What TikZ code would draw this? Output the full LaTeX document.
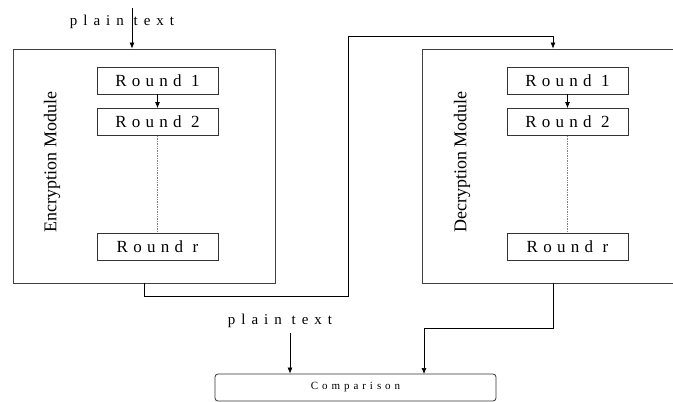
\documentclass[tikz,border=0pt]{standalone}
\usepackage{fontspec}
\setmainfont{Liberation Serif}
\newfontfamily\roundfont[LetterSpace=31]{Liberation Serif}
\newfontfamily\plainfont[LetterSpace=40]{Liberation Serif}
\newfontfamily\cmpfont[LetterSpace=36]{Liberation Serif}
\usetikzlibrary{arrows.meta}

\begin{document}
\begin{tikzpicture}[x=1pt, y=-1pt,
    modbox/.style={draw=black!75, line width=0.8pt, minimum width=262pt, minimum height=234pt, inner sep=0pt},
    roundbox/.style={draw=black!80, line width=0.8pt, fill=white, minimum width=121pt, minimum height=27pt, inner sep=0pt, font=\roundfont\fontsize{17}{19}\selectfont},
    arr/.style={line width=0.7pt, -{Latex[length=6pt,width=5pt]}}]

        % page size, the decryption module runs off the right edge
        \useasboundingbox (0,0) rectangle (673,402);
        \clip (0,0) rectangle (673,402);

        % the two modules
        \node[modbox] (enc) at (144,166) {};
        \node[modbox] (dec) at (553,166) {};
        \node[rotate=90, font=\fontsize{18}{20}\selectfont] (enclabel) at (52,162) {Encryption Module};
        \node[rotate=90, font=\fontsize{18}{20}\selectfont] (declabel) at (462,162) {Decryption Module};

        % rounds inside each module
        \foreach \m/\cx in {enc/157.5, dec/567.5} {
            \node[roundbox] (\m r1) at (\cx,80.5) {Round 1};
            \node[roundbox] (\m r2) at (\cx,122) {Round 2};
            \node[roundbox] (\m rr) at (\cx,246.5) {Round r};
            \draw[arr] (\m r1) -- (\m r2);
            \draw[black!50, densely dotted, line width=0.7pt] (\m r2) -- (\m rr);
        }

        % comparison box
        \node[draw=black!80, line width=0.8pt, rounded corners=3pt, minimum width=281pt, minimum height=27pt, inner sep=0pt, font=\cmpfont\fontsize{11}{13}\selectfont] (cmp) at (355.5,387.5) {Comparison};

        % plain text inputs
        \node[font=\plainfont\fontsize{15}{17}\selectfont] (ptop) at (122,22) {plain text};
        \node[font=\plainfont\fontsize{15}{17}\selectfont] (pbot) at (280,321) {plain text};
        \coordinate (ptopin) at (132,8);
        \coordinate (pbotin) at (290,333);
        \draw[arr] (ptopin) -- (ptopin |- enc.north);
        \draw[arr] (pbotin) -- (pbotin |- cmp.north);

        % encryption output into decryption, decryption output into comparison
        \draw[arr] (enc.south) -- ++(0,13) -| (348,36) -| (dec.north);
        \coordinate (cmpin) at (424,374);
        \draw[arr] (dec.south) -- ++(0,45) -| (cmpin);

\end{tikzpicture}
\end{document}
